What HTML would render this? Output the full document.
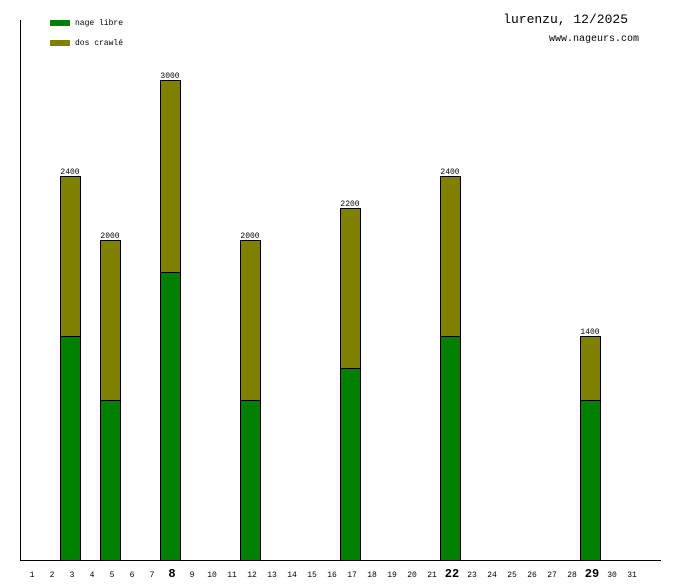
<!DOCTYPE html>
<html><head><meta charset="utf-8"><style>
body{margin:0;background:#fff}
svg text{font-family:"Liberation Mono","DejaVu Sans Mono",monospace}
</style></head><body>
<svg id="c" width="680" height="580" xmlns="http://www.w3.org/2000/svg">
<rect width="680" height="580" fill="#fff"/>
<line x1="20.5" y1="20" x2="20.5" y2="561" stroke="#000"/>
<line x1="20" y1="560.5" x2="661" y2="560.5" stroke="#000"/>
<rect x="50" y="20" width="20" height="6" fill="#007f00"/>
<text x="75" y="25" font-size="8">nage libre</text>
<rect x="50" y="40" width="20" height="6" fill="#7f7f00"/>
<text x="75" y="45" font-size="8">dos crawlé</text>
<text x="628" y="23" font-size="13" text-anchor="end">lurenzu, 12/2025</text>
<text x="639" y="41" font-size="10" text-anchor="end">www.nageurs.com</text>
<g id="bars"></g><g id="ticks"></g>
</svg>
<script>
const days=[3,5,8,12,17,22,29];
const libre=[1400,1000,1800,1000,1200,1400,1000];
const dos=[1000,1000,1200,1000,1000,1000,400];
const boldDays=[8,22,29];
const ns="http://www.w3.org/2000/svg";
const xL=d=>20+20*(d-1);
const y=v=>560-v*0.16;
const g=document.getElementById('bars'),t=document.getElementById('ticks');
function mk(tag,a,p){const e=document.createElementNS(ns,tag);for(const k in a)e.setAttribute(k,a[k]);p.appendChild(e);return e;}
days.forEach((d,i)=>{
  const tot=libre[i]+dos[i];
  const r1=mk('rect',{x:xL(d)+0.5,y:y(libre[i])+0.5,width:20,height:y(0)-y(libre[i]),fill:'#007f00',stroke:'#000'},g);
  
  
  const r2=mk('rect',{x:xL(d)+0.5,y:y(tot)+0.5,width:20,height:y(libre[i])-y(tot),fill:'#7f7f00',stroke:'#000'},g);
  
  
  const l=mk('text',{x:xL(d)+10,y:y(tot)-2,'font-size':8,'text-anchor':'middle'},g);
  l.textContent=tot;
  
  
});
for(let d=1;d<=31;d++){
  const b=boldDays.includes(d);
  const e=mk('text',{x:xL(d)+12,y:577,'font-size':b?12:8,'font-weight':b?'bold':'normal','text-anchor':'middle'},t);
  e.textContent=d;
  
  
}
</script>
</body></html>
